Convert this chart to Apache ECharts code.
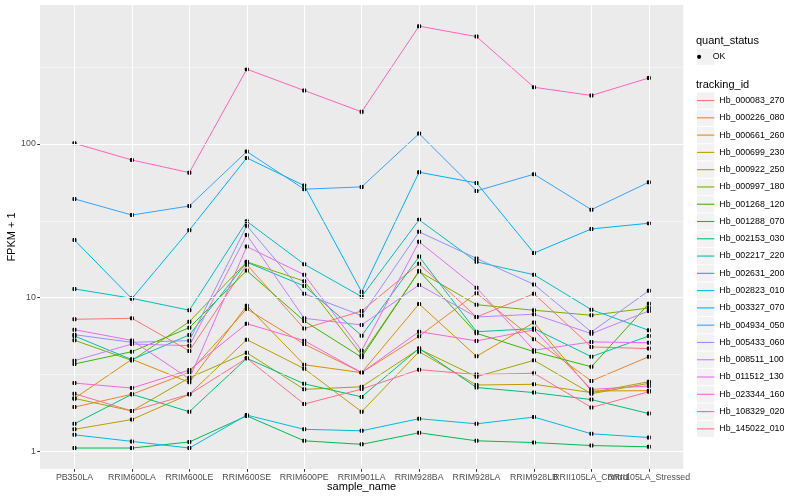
<!DOCTYPE html>
<html><head><meta charset="utf-8">
<script src="https://cdn.jsdelivr.net/npm/echarts@6/dist/echarts.min.js"></script>
<style>html,body{margin:0;padding:0;background:#fff}#c{width:800px;height:500px}</style>
</head><body><div id="c"></div>
<script>
const sampleNames = ['PB350LA','RRIM600LA','RRIM600LE','RRIM600SE','RRIM600PE','RRIM901LA','RRIM928BA','RRIM928LA','RRIM928LB','RRII105LA_Control','RRII105LA_Stressed'];
const trackingIds = ['Hb_000083_270','Hb_000226_080','Hb_000661_260','Hb_000699_230','Hb_000922_250','Hb_000997_180','Hb_001268_120','Hb_001288_070','Hb_002153_030','Hb_002217_220','Hb_002631_200','Hb_002823_010','Hb_003327_070','Hb_004934_050','Hb_005433_060','Hb_008511_100','Hb_011512_130','Hb_023344_160','Hb_108329_020','Hb_145022_010'];
const quantStatus = ['OK'];

const Hb_000083_270 = [7.23, 7.34, 4.50, 16.4, 6.29, 8.19, 16.6, 7.48, 10.6, 4.78, 4.66];
const Hb_000226_080 = [1.94, 2.35, 3.27, 8.44, 4.99, 3.25, 5.61, 10.7, 5.36, 2.87, 4.13];
const Hb_000661_260 = [2.21, 3.97, 2.81, 8.87, 3.66, 3.25, 9.1, 4.15, 6.88, 2.47, 2.48];
const Hb_000699_230 = [1.39, 1.61, 2.35, 5.33, 3.45, 1.81, 4.45, 2.70, 2.73, 2.41, 2.84];
const Hb_000922_250 = [2.21, 1.83, 3.01, 4.38, 2.53, 2.63, 4.63, 3.06, 3.91, 2.37, 2.77];
const Hb_000997_180 = [5.28, 3.90, 6.98, 17.1, 12.8, 4.22, 14.8, 9.0, 8.28, 7.68, 8.57];
const Hb_001268_120 = [3.70, 4.45, 6.38, 15.0, 7.05, 4.09, 14.9, 5.86, 4.45, 3.55, 9.14];
const Hb_001288_070 = [1.05, 1.05, 1.15, 1.70, 1.17, 1.11, 1.32, 1.17, 1.14, 1.09, 1.07];
const Hb_002153_030 = [1.51, 2.35, 1.81, 4.03, 2.75, 2.26, 4.68, 2.60, 2.41, 2.17, 1.76];
const Hb_002217_220 = [5.63, 3.95, 5.72, 17.0, 11.9, 5.66, 18.5, 6.0, 6.29, 4.13, 5.63];
const Hb_002631_200 = [11.4, 9.9, 8.28, 31.4, 16.5, 10.15, 32.1, 17.1, 14.1, 8.35, 6.13];
const Hb_002823_010 = [1.28, 1.16, 1.05, 1.72, 1.39, 1.36, 1.63, 1.51, 1.67, 1.30, 1.23];
const Hb_003327_070 = [23.7, 9.85, 27.5, 81.2, 53.6, 10.9, 65.5, 55.8, 19.5, 28.0, 30.5];
const Hb_004934_050 = [43.9, 34.5, 39.5, 89.3, 50.8, 52.6, 116.9, 49.5, 63.6, 37.4, 56.4];
const Hb_005433_060 = [5.74, 5.12, 5.25, 29.4, 10.6, 7.64, 26.8, 18.0, 12.2, 5.98, 11.1];
const Hb_008511_100 = [3.89, 4.99, 4.87, 25.6, 7.34, 6.64, 12.1, 7.48, 7.80, 5.83, 8.19];
const Hb_011512_130 = [6.19, 5.27, 2.96, 21.5, 14.1, 4.52, 23.1, 11.6, 4.55, 5.15, 5.09];
const Hb_023344_160 = [2.78, 2.58, 3.38, 6.77, 5.25, 3.25, 6.01, 5.23, 6.17, 2.53, 2.66];
const Hb_108329_020 = [101, 78.7, 65.1, 307, 223, 162, 585, 500, 234, 207, 269];
const Hb_145022_010 = [2.37, 1.83, 2.35, 4.03, 2.03, 2.54, 3.40, 3.16, 3.22, 1.93, 2.44];

const seriesValues = [Hb_000083_270, Hb_000226_080, Hb_000661_260, Hb_000699_230, Hb_000922_250,
  Hb_000997_180, Hb_001268_120, Hb_001288_070, Hb_002153_030, Hb_002217_220, Hb_002631_200,
  Hb_002823_010, Hb_003327_070, Hb_004934_050, Hb_005433_060, Hb_008511_100, Hb_011512_130,
  Hb_023344_160, Hb_108329_020, Hb_145022_010];

const colors = ['#F8766D','#EA8331','#D89000','#C09B00','#A3A500','#7CAE00','#39B600','#00BB4E','#00BF7D','#00C1A3',
  '#00BFC4','#00BAE0','#00B0F6','#35A2FF','#9590FF','#C77CFF','#E76BF3','#FA62DB','#FF62BC','#FF6C90'];

const yTickValues = [1, 10, 100];
const yTickLabels = ['1', '10', '100'];
const yMinorValues = [3.1623, 31.623, 316.23];
const yMin = 0.767, yMax = 803;

const FONT = 'Liberation Sans, Arial, Helvetica, sans-serif';
const chart = echarts.init(document.getElementById('c'), null, {renderer: 'canvas'});

const catIdx = sampleNames.map((_, i) => i);
const logTicks = yTickValues.map(v => Math.log10(v));
// labels split over two overlaid axes so that overlapping labels are both drawn (as in the reference)
const labelSetA = catIdx.filter(i => i % 2 === 0);
const labelSetB = catIdx.filter(i => i % 2 === 1);

const series = [];
series.push({
  type: 'line', name: '__grid', data: [], z: 1, silent: true,
  markLine: {
    silent: true, symbol: 'none', animation: false,
    label: {show: false},
    lineStyle: {color: '#FFFFFF', width: 1.07, type: 'solid'},
    emphasis: {disabled: true},
    data: catIdx.map(i => ({xAxis: i}))
      .concat(yTickValues.map(v => ({yAxis: v})))
      .concat(yMinorValues.map(v => ({yAxis: v, lineStyle: {color: '#FFFFFF', width: 0.53, type: 'solid'}})))
  }
});
seriesValues.forEach((vals, k) => {
  series.push({
    type: 'line', name: trackingIds[k], z: 2, silent: true,
    data: vals.map((v, i) => [i, v]),
    showSymbol: false, symbol: 'none',
    itemStyle: {color: colors[k]},
    lineStyle: {color: colors[k], width: 1},
    emphasis: {disabled: true}
  });
});
const pts = [];
seriesValues.forEach(vals => vals.forEach((v, i) => pts.push([i, v])));
series.push({
  type: 'scatter', name: quantStatus[0], z: 3, silent: true,
  data: pts, symbol: 'roundRect', symbolSize: 4,
  itemStyle: {color: '#000000', opacity: 1, borderWidth: 0}
});

const legendText = {fontSize: 8.8, color: '#000', fontFamily: FONT, lineHeight: 17.28};
const xLabelStyle = {margin: 4.5, fontSize: 8.8, color: '#4D4D4D', fontFamily: FONT, hideOverlap: false, showMinLabel: true, showMaxLabel: true,
  formatter: v => sampleNames[Math.round(v)]};

chart.setOption({
  animation: false,
  backgroundColor: '#FFFFFF',
  textStyle: {fontFamily: FONT},
  grid: {left: 40, right: 116.7, top: 5, bottom: 31, show: true, backgroundColor: '#EBEBEB', borderWidth: 0, containLabel: false, outerBoundsMode: 'none'},
  title: [
    {text: 'quant_status', left: 696, top: 34.5, padding: 0, textStyle: {fontSize: 11, fontWeight: 'normal', color: '#000', fontFamily: FONT, lineHeight: 13}},
    {text: 'tracking_id', left: 696, top: 78, padding: 0, textStyle: {fontSize: 11, fontWeight: 'normal', color: '#000', fontFamily: FONT, lineHeight: 13}}
  ],
  legend: [
    {data: quantStatus, left: 697, top: 48.5, orient: 'vertical', padding: 0, icon: 'rect', itemWidth: 17.28, itemHeight: 16.3, itemGap: 0.98,
     formatter: () => '', selectedMode: false, itemStyle: {color: '#F2F2F2', borderWidth: 0, opacity: 1}, z: 1},
    {data: quantStatus.map(n => ({name: n, icon: 'circle'})), left: 697, top: 48.2, orient: 'vertical', padding: 0, itemWidth: 17.28, itemHeight: 4.2, itemGap: 0,
     selectedMode: false, itemStyle: {borderWidth: 0, opacity: 1}, textStyle: legendText, z: 3},
    {data: trackingIds, left: 697, top: 92.4, orient: 'vertical', padding: 0, icon: 'rect', itemWidth: 17.28, itemHeight: 16.3, itemGap: 0.98,
     formatter: () => '', selectedMode: false, itemStyle: {color: '#F2F2F2', borderWidth: 0}, z: 1},
    {data: trackingIds, left: 697, top: 91.9, orient: 'vertical', padding: 0, icon: 'rect', itemWidth: 17.28, itemHeight: 1.1, itemGap: 0,
     selectedMode: false, itemStyle: {borderWidth: 0}, textStyle: legendText, z: 3}
  ],
  xAxis: [
    {type: 'value', min: -0.6, max: 10.6, position: 'bottom',
     axisLine: {show: false, onZero: false}, splitLine: {show: false},
     axisTick: {show: true, customValues: catIdx, length: 2.75, lineStyle: {color: '#333333', width: 1}},
     axisLabel: Object.assign({customValues: labelSetA}, xLabelStyle),
     name: 'sample_name', nameLocation: 'middle', nameGap: 12, nameMoveOverlap: false,
     nameTextStyle: {fontSize: 11, color: '#000', fontFamily: FONT}},
    {type: 'value', min: -0.6, max: 10.6, position: 'bottom', offset: 0,
     axisLine: {show: false, onZero: false}, splitLine: {show: false}, axisTick: {show: false},
     axisLabel: Object.assign({customValues: labelSetB}, xLabelStyle)}
  ],
  yAxis: [
    {type: 'log', logBase: 10, min: yMin, max: yMax, show: false, position: 'left', axisLine: {onZero: false}},
    {type: 'value', min: Math.log10(yMin), max: Math.log10(yMax), position: 'left', offset: 0,
     axisLine: {show: false, onZero: false}, splitLine: {show: false},
     axisTick: {show: true, customValues: logTicks, length: 2.75, lineStyle: {color: '#333333', width: 1}},
     axisLabel: {customValues: logTicks, formatter: v => yTickLabels[logTicks.findIndex(t => Math.abs(t - v) < 1e-6)] || '', margin: 4.2, fontSize: 8.8, color: '#4D4D4D', fontFamily: FONT,
                 showMinLabel: true, showMaxLabel: true},
     name: 'FPKM + 1', nameLocation: 'middle', nameRotate: 90, nameGap: 22.5, nameMoveOverlap: false,
     nameTextStyle: {fontSize: 11, color: '#000', fontFamily: FONT}}
  ],
  series: series
});
</script></body></html>
